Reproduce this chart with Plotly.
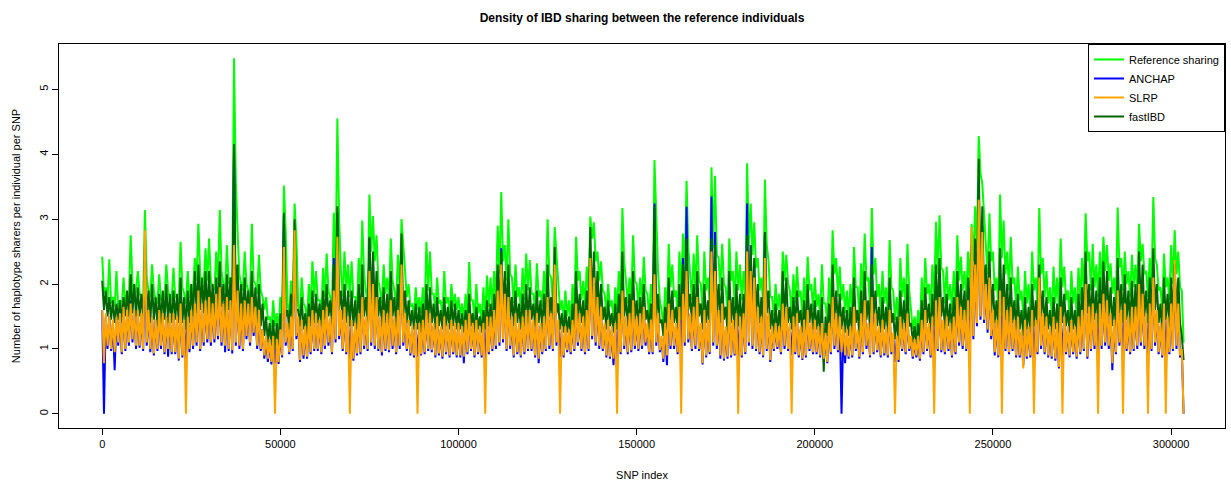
import plotly.graph_objects as go

STEP = 1000  # SNPs between successive readings

# Upper (hi) and lower (lo) readings of each curve, one pair per 1000 SNPs (0 .. 303000)
ref_hi = [
 2.42,1.95,2.38,1.8,2.2,1.75,2.1,1.85,2.75,1.8,
 2.2,1.8,3.14,1.9,2.3,1.75,2.15,1.8,2.3,1.75,
 2.25,1.8,2.65,1.85,2.2,1.8,2.4,2.93,1.9,2.55,
 2.7,1.95,2.5,3.14,2.0,2.6,2.1,5.48,2.79,2.0,
 2.5,1.9,2.93,2.0,2.45,1.8,1.8,1.5,1.75,1.55,
 1.8,3.52,1.7,2.05,3.24,1.7,2.1,1.65,2.0,2.35,
 2.2,1.75,2.25,2.47,1.8,3.1,4.55,2.2,2.5,2.3,
 2.35,1.8,2.4,2.98,1.9,3.38,3.05,2.75,1.9,2.3,
 2.1,2.7,1.9,2.45,3.0,2.2,2.0,1.7,1.95,1.8,
 1.95,2.65,2.5,1.85,2.1,1.75,2.2,1.8,2.0,1.85,
 1.8,1.7,1.85,2.34,1.75,2.0,1.7,1.95,2.13,2.1,
 2.2,2.9,3.42,2.6,3.0,2.1,2.3,1.95,2.25,2.47,
 2.37,1.85,2.32,1.9,2.2,3.0,2.1,2.88,1.95,1.75,
 1.9,1.75,2.0,2.73,2.2,2.05,2.27,3.04,2.95,2.5,
 2.35,1.85,2.0,1.75,1.95,2.2,3.17,2.05,2.1,2.75,
 2.0,2.1,2.42,1.85,2.0,3.91,2.2,1.6,1.95,2.62,
 2.3,1.9,2.5,2.78,3.59,2.2,2.47,2.75,2.0,2.5,
 2.1,3.8,3.67,2.4,2.62,1.95,2.7,2.2,2.5,2.3,
 2.2,3.86,3.24,2.95,2.4,2.1,3.61,2.37,1.8,2.0,
 1.85,2.5,2.45,1.9,2.15,2.27,1.9,2.1,2.42,2.0,
 2.1,1.85,2.3,1.7,2.1,2.83,2.4,2.27,2.0,1.9,
 2.0,2.57,1.95,2.32,2.78,2.1,3.17,2.4,2.0,2.2,
 1.95,2.68,1.9,1.8,2.4,2.1,2.62,1.6,1.5,1.6,
 2.1,2.4,2.0,2.3,2.96,3.06,2.2,2.27,2.0,2.2,
 2.75,2.42,2.2,2.5,2.93,3.2,4.28,3.55,2.6,3.09,
 2.5,2.1,3.38,2.98,2.5,2.73,2.1,2.27,1.9,2.2,
 2.0,2.5,2.1,3.17,2.4,2.2,1.95,2.27,2.1,2.7,
 2.27,1.9,2.2,1.95,2.25,2.4,3.09,2.5,2.62,2.3,
 2.5,2.73,2.6,2.32,2.1,3.18,2.4,2.5,2.2,2.45,
 2.3,2.93,2.62,2.2,2.4,3.34,2.3,1.95,2.47,2.1,
 2.6,2.83,2.5,1.9]
ref_lo = [
 1.85,1.75,1.7,1.65,1.6,1.65,1.7,1.8,2.0,1.9,
 1.85,1.75,2.1,1.8,1.9,1.7,1.75,1.8,1.9,1.75,
 1.8,1.75,1.95,1.7,1.8,1.9,2.05,2.15,2.0,2.05,
 2.05,1.9,2.0,2.2,1.9,2.0,2.0,3.6,2.15,1.9,
 2.0,1.8,2.05,1.85,1.9,1.6,1.45,1.3,1.35,1.3,
 1.45,2.8,1.5,1.75,2.7,1.5,1.7,1.45,1.6,1.8,
 1.75,1.6,1.8,1.9,1.65,2.15,3.0,1.8,1.9,1.8,
 1.8,1.65,1.9,2.15,1.7,2.5,2.35,2.05,1.7,1.85,
 1.75,2.05,1.7,1.9,2.6,1.8,1.65,1.5,1.6,1.55,
 1.6,1.9,1.85,1.6,1.7,1.5,1.7,1.55,1.65,1.6,
 1.5,1.45,1.5,1.75,1.45,1.55,1.4,1.5,1.65,1.6,
 1.75,2.15,2.35,2.05,2.15,1.7,1.8,1.6,1.75,1.9,
 1.85,1.6,1.8,1.65,1.75,2.15,1.7,2.4,1.6,1.45,
 1.5,1.4,1.6,2.05,1.75,1.65,1.8,2.7,2.35,2.05,
 1.9,1.55,1.65,1.45,1.6,1.75,2.35,1.7,1.75,2.05,
 1.65,1.7,1.9,1.5,1.6,3.0,1.75,1.35,1.55,1.95,
 1.8,1.55,1.9,2.15,2.55,1.75,1.9,2.05,1.6,1.9,
 1.65,2.55,2.45,1.9,2.0,1.55,2.05,1.7,1.9,1.75,
 1.75,2.6,2.45,2.25,1.9,1.7,2.6,1.8,1.5,1.6,
 1.5,2.05,2.0,1.55,1.7,1.8,1.5,1.65,1.9,1.6,
 1.65,1.5,1.7,1.4,1.6,2.15,1.8,1.75,1.55,1.5,
 1.55,1.95,1.5,1.8,2.05,1.65,2.15,1.8,1.55,1.7,
 1.55,1.95,1.45,1.4,1.8,1.65,1.9,1.3,1.25,1.3,
 1.65,1.85,1.6,1.75,2.15,2.25,1.7,1.75,1.6,1.7,
 2.05,1.9,1.8,2.0,2.35,2.55,3.7,3.0,2.15,2.35,
 1.9,1.65,2.4,2.15,1.9,2.0,1.65,1.75,1.5,1.7,
 1.55,1.9,1.65,2.15,1.8,1.7,1.5,1.7,1.6,1.95,
 1.75,1.5,1.7,1.5,1.75,1.85,2.35,1.9,1.95,1.8,
 1.95,2.2,2.05,1.85,1.7,2.25,1.9,2.0,1.8,1.95,
 1.9,2.35,2.15,1.8,1.95,2.4,1.9,1.6,1.95,1.75,
 2.0,2.15,1.95,1.1]

anchap_hi = [
 1.6,1.5,1.5,1.4,1.5,1.5,1.6,1.55,1.75,1.6,
 1.55,1.5,2.6,1.55,1.5,1.45,1.55,1.5,1.5,1.5,
 1.5,1.45,1.65,1.4,1.5,1.55,1.65,1.85,1.65,1.7,
 1.75,1.65,1.8,1.9,1.7,1.75,1.8,4.15,1.9,1.65,
 1.7,1.65,1.8,1.6,1.55,1.3,1.15,1.1,1.15,1.1,
 1.25,3.07,1.35,1.45,2.7,1.45,1.4,1.3,1.45,1.55,
 1.5,1.4,1.55,1.6,1.45,2.4,3.1,1.55,1.6,1.45,
 1.4,1.35,1.5,1.9,1.45,2.7,2.4,1.9,1.45,1.55,
 1.5,1.7,1.45,1.55,2.4,1.5,1.4,1.3,1.35,1.35,
 1.4,1.55,1.5,1.35,1.45,1.3,1.45,1.35,1.4,1.35,
 1.35,1.3,1.4,1.5,1.35,1.4,1.3,1.35,1.45,1.45,
 1.55,2.2,2.55,2.0,1.9,1.45,1.5,1.35,1.45,1.55,
 1.55,1.4,1.5,1.35,1.45,1.85,1.5,2.25,1.4,1.3,
 1.3,1.25,1.4,1.75,1.5,1.45,1.55,2.45,2.05,1.75,
 1.6,1.35,1.4,1.3,1.35,1.5,2.0,1.45,1.5,1.7,
 1.45,1.5,1.6,1.35,1.4,3.24,1.5,1.15,1.35,1.65,
 1.55,1.35,1.7,2.4,3.19,1.5,1.6,1.85,1.35,1.55,
 1.4,3.35,2.8,1.55,1.65,1.3,1.7,1.4,1.5,1.45,
 1.5,3.24,2.6,2.3,1.6,1.45,2.78,1.5,1.3,1.35,
 1.3,1.65,1.6,1.35,1.45,1.5,1.3,1.4,1.55,1.35,
 1.4,1.3,1.35,1.2,1.35,1.85,1.5,1.45,1.3,1.25,
 1.3,1.6,1.25,1.5,1.8,1.35,2.57,1.5,1.3,1.4,
 1.3,1.55,1.2,1.15,1.45,1.35,1.5,1.15,1.1,1.15,
 1.4,1.55,1.35,1.45,1.7,1.9,1.4,1.45,1.35,1.45,
 1.75,1.6,1.55,1.7,2.6,2.3,3.6,2.9,1.95,2.05,
 1.55,1.4,2.1,1.75,1.55,1.6,1.4,1.45,1.25,1.4,
 1.3,1.55,1.4,2.0,1.5,1.45,1.3,1.45,1.35,1.6,
 1.45,1.3,1.4,1.3,1.45,1.55,2.1,1.6,1.65,1.5,
 1.65,1.8,1.7,1.5,1.4,1.95,1.55,1.65,1.45,1.6,
 1.6,2.0,1.8,1.5,1.65,2.15,1.55,1.35,1.65,1.45,
 1.65,2.3,1.9,1.0]
anchap_lo = [
 0.0,1.0,0.97,0.67,1.05,0.92,0.97,1.05,1.1,1.0,
 1.02,0.97,1.05,0.95,0.9,0.97,1.0,0.92,0.88,0.92,
 0.92,0.82,0.87,0.85,0.95,1.0,1.05,0.97,1.05,1.1,
 1.05,1.1,1.15,1.05,0.95,0.97,0.93,1.05,1.0,0.97,
 1.15,1.05,1.2,1.0,0.97,0.85,0.8,0.76,0.78,0.77,
 0.87,1.05,0.92,0.97,1.15,0.8,0.85,0.85,0.92,0.97,
 0.97,0.92,1.0,1.05,0.92,1.1,1.15,0.97,0.92,0.85,
 0.82,0.9,0.92,1.0,0.97,1.05,1.0,0.97,0.9,0.97,
 0.95,1.0,0.92,1.0,1.05,0.97,0.9,0.87,0.88,0.9,
 0.92,0.97,0.95,0.87,0.9,0.85,0.92,0.87,0.92,0.87,
 0.87,0.78,0.92,0.97,0.87,0.92,0.87,0.85,0.92,0.97,
 1.0,1.05,1.1,0.97,1.0,0.87,0.92,0.87,0.92,0.97,
 0.97,0.87,0.78,0.92,0.97,1.0,0.97,1.05,0.88,0.87,
 0.95,0.92,0.97,1.05,0.97,0.92,0.97,1.15,1.05,1.0,
 0.97,0.87,0.85,0.75,0.8,0.92,1.0,0.92,0.95,1.0,
 0.97,1.0,1.05,0.92,0.92,1.05,0.95,0.8,0.75,1.0,
 1.0,0.92,0.9,1.05,1.1,0.97,1.0,0.97,0.76,0.87,
 0.92,1.05,1.0,0.85,0.82,0.85,0.87,0.9,0.88,0.87,
 0.92,1.05,1.0,0.97,0.92,0.87,0.97,0.8,0.97,1.0,
 0.92,1.0,0.97,0.9,0.92,0.87,0.83,0.87,0.97,0.92,
 0.92,0.87,0.82,0.78,0.92,1.0,0.95,0.0,0.78,0.85,
 0.87,0.97,0.85,0.92,1.0,0.87,0.92,0.95,0.87,0.9,
 0.87,0.92,0.8,0.8,0.97,0.92,0.97,0.85,0.87,0.82,
 0.92,0.97,0.87,0.88,0.97,0.95,0.92,0.97,0.87,0.92,
 1.05,1.0,0.97,0.95,1.15,1.35,1.45,1.4,1.25,1.15,
 0.9,0.87,0.9,0.97,0.92,0.97,0.87,0.87,0.75,0.85,
 0.87,0.85,0.92,1.0,0.92,0.87,0.85,0.82,0.7,0.82,
 0.92,0.87,0.92,0.85,0.92,0.97,0.85,0.97,1.0,0.9,
 1.0,1.05,1.0,0.67,0.92,1.05,0.9,0.97,0.92,0.97,
 1.0,1.05,1.0,0.9,0.97,1.05,0.92,0.87,0.88,0.92,
 0.97,1.0,0.87,0.0]

slrp_hi = [
 1.6,1.55,1.5,1.45,1.5,1.55,1.65,1.6,1.7,1.6,
 1.6,1.55,2.83,1.6,1.5,1.45,1.6,1.55,1.5,1.55,
 1.55,1.5,1.7,1.45,1.5,1.6,1.7,1.9,1.7,1.75,
 1.8,1.7,1.85,1.95,1.7,1.8,1.75,2.6,1.9,1.7,
 1.75,1.7,1.8,1.65,1.6,1.3,1.2,1.15,1.2,1.15,
 1.3,2.57,1.4,1.5,2.83,1.5,1.45,1.35,1.5,1.6,
 1.55,1.45,1.6,1.65,1.5,1.9,2.73,1.6,1.65,1.5,
 1.45,1.4,1.55,1.8,1.5,2.2,2.0,1.8,1.5,1.6,
 1.55,1.75,1.5,1.6,2.3,1.55,1.45,1.35,1.4,1.4,
 1.45,1.6,1.55,1.4,1.5,1.35,1.5,1.4,1.45,1.4,
 1.4,1.35,1.45,1.55,1.4,1.45,1.35,1.4,1.5,1.5,
 1.6,1.9,2.3,1.85,1.8,1.5,1.55,1.4,1.5,1.6,
 1.6,1.45,1.55,1.4,1.5,1.8,1.55,2.3,1.45,1.35,
 1.35,1.3,1.45,1.7,1.55,1.5,1.6,2.4,2.1,1.8,
 1.65,1.4,1.45,1.35,1.4,1.55,1.9,1.5,1.55,1.75,
 1.5,1.55,1.65,1.4,1.45,2.15,1.55,1.2,1.4,1.7,
 1.6,1.4,1.65,1.85,2.2,1.55,1.65,1.8,1.4,1.6,
 1.45,2.5,2.2,1.6,1.7,1.35,1.75,1.45,1.55,1.5,
 1.55,2.5,2.2,2.1,1.65,1.5,2.4,1.55,1.35,1.4,
 1.35,1.7,1.65,1.4,1.5,1.55,1.35,1.45,1.6,1.4,
 1.45,1.35,1.4,1.25,1.4,1.8,1.55,1.5,1.35,1.3,
 1.35,1.65,1.3,1.55,1.75,1.4,1.8,1.55,1.35,1.45,
 1.35,1.6,1.25,1.2,1.5,1.4,1.55,1.2,1.15,1.2,
 1.45,1.6,1.4,1.5,1.75,1.8,1.45,1.5,1.4,1.5,
 1.8,1.65,1.6,1.75,2.88,2.3,3.3,2.8,2.0,2.1,
 1.6,1.45,1.9,1.8,1.6,1.65,1.45,1.5,1.3,1.45,
 1.35,1.6,1.45,2.1,1.55,1.5,1.35,1.5,1.4,1.65,
 1.5,1.35,1.45,1.35,1.5,1.6,2.0,1.65,1.7,1.55,
 1.7,1.85,1.75,1.55,1.45,1.9,1.6,1.7,1.5,1.65,
 1.65,2.0,1.85,1.55,1.7,2.1,1.6,1.4,1.7,1.5,
 1.7,2.37,1.7,1.0]
slrp_lo = [
 0.78,1.05,1.0,0.95,1.1,0.95,1.0,1.1,1.15,1.05,
 1.05,1.0,1.1,1.0,0.93,1.0,1.05,0.95,1.0,0.95,
 0.95,0.85,0.9,0.0,1.0,1.05,1.1,1.0,1.1,1.15,
 1.1,1.15,1.2,1.1,1.05,1.0,0.98,1.1,1.05,1.0,
 1.2,1.1,1.25,1.05,1.0,0.9,0.85,0.8,0.0,0.8,
 0.9,1.1,0.95,1.0,1.2,0.83,0.9,0.88,0.95,1.0,
 1.0,0.95,1.05,1.1,0.95,1.15,1.2,1.0,0.95,0.0,
 0.85,0.93,0.95,1.05,1.0,1.1,1.05,1.0,0.95,1.0,
 0.98,1.05,0.95,1.05,1.1,1.0,0.93,0.9,0.0,0.92,
 0.95,1.0,0.98,0.9,0.93,0.88,0.95,0.9,0.95,0.9,
 0.9,0.88,0.95,1.0,0.9,0.95,0.9,0.0,0.95,1.0,
 1.05,1.1,1.15,1.0,1.05,0.9,0.95,0.9,0.95,1.0,
 1.0,0.9,0.85,0.95,1.0,1.05,1.0,1.1,0.0,0.9,
 0.98,0.95,1.0,1.1,1.0,0.95,1.0,1.2,1.1,1.05,
 1.0,0.9,0.88,0.85,0.0,0.95,1.05,0.95,0.98,1.05,
 1.0,1.05,1.1,0.95,0.95,1.1,0.98,0.85,0.9,1.05,
 1.05,0.95,0.0,1.1,1.15,1.0,1.05,1.0,0.78,0.9,
 0.95,1.1,1.05,0.9,0.85,0.88,0.9,0.92,0.0,0.9,
 0.95,1.1,1.05,1.0,0.95,0.9,1.0,0.83,1.0,1.03,
 0.95,1.05,1.0,0.0,0.95,0.9,0.85,0.9,1.0,0.95,
 0.95,0.9,0.85,0.8,0.95,1.05,0.98,0.95,0.9,0.88,
 0.9,1.0,0.88,0.95,1.05,0.9,0.95,0.98,0.9,0.93,
 0.9,0.95,0.0,0.83,1.0,0.95,1.0,0.88,0.9,0.85,
 0.95,1.0,0.9,0.0,1.0,0.98,0.95,1.0,0.9,0.95,
 1.1,1.05,1.0,0.0,1.2,1.4,1.5,1.45,1.3,1.2,
 0.95,0.9,0.0,1.0,0.95,1.0,0.9,0.9,0.7,0.88,
 0.9,0.0,0.95,1.05,0.95,0.9,0.88,0.85,0.72,0.0,
 0.95,0.9,0.95,0.88,0.95,1.0,0.88,1.0,1.05,0.0,
 1.05,1.1,1.05,0.78,0.95,1.1,0.0,1.0,0.95,1.0,
 1.05,1.1,1.05,0.0,1.0,1.1,0.95,0.9,0.0,0.95,
 1.0,1.05,0.9,0.0]

fastibd_hi = [
 2.05,1.9,1.8,1.75,1.7,1.75,1.8,1.9,2.15,2.0,
 1.95,1.85,2.3,1.9,2.0,1.8,1.85,1.9,2.0,1.85,
 1.9,1.85,2.1,1.8,1.9,2.0,2.2,2.3,2.1,2.2,
 2.2,2.0,2.1,2.35,2.0,2.15,2.1,4.15,2.3,2.0,
 2.1,1.9,2.2,1.95,2.0,1.7,1.5,1.4,1.45,1.4,
 1.55,3.1,1.6,1.85,3.0,1.6,1.8,1.55,1.7,1.9,
 1.85,1.7,1.9,2.0,1.75,2.3,3.2,1.9,2.0,1.9,
 1.9,1.75,2.0,2.3,1.8,2.73,2.5,2.2,1.8,1.95,
 1.85,2.2,1.8,2.0,2.78,1.9,1.75,1.6,1.7,1.65,
 1.7,2.0,1.95,1.7,1.8,1.6,1.8,1.65,1.75,1.7,
 1.6,1.55,1.6,1.85,1.55,1.65,1.5,1.6,1.75,1.7,
 1.85,2.3,2.5,2.2,2.3,1.8,1.9,1.7,1.85,2.0,
 1.95,1.7,1.9,1.75,1.85,2.3,1.8,2.57,1.7,1.55,
 1.6,1.5,1.7,2.2,1.85,1.75,1.9,2.88,2.5,2.2,
 2.0,1.65,1.75,1.55,1.7,1.85,2.5,1.8,1.85,2.2,
 1.75,1.8,2.0,1.6,1.7,3.2,1.85,1.45,1.65,2.1,
 1.9,1.65,2.0,2.3,2.7,1.85,2.0,2.2,1.7,2.0,
 1.75,2.7,2.6,2.0,2.1,1.65,2.2,1.8,2.0,1.85,
 1.85,2.75,2.6,2.4,2.0,1.8,2.8,1.9,1.6,1.7,
 1.6,2.2,2.1,1.65,1.8,1.9,1.6,1.75,2.0,1.7,
 1.75,1.6,1.8,1.5,1.7,2.3,1.9,1.85,1.65,1.6,
 1.65,2.1,1.6,1.9,2.2,1.75,2.3,1.9,1.65,1.8,
 1.65,2.1,1.55,1.5,1.9,1.75,2.0,1.4,1.35,1.4,
 1.75,1.95,1.7,1.85,2.3,2.4,1.8,1.85,1.7,1.8,
 2.2,2.0,1.9,2.1,2.5,2.7,3.93,3.2,2.3,2.5,
 2.0,1.75,2.55,2.3,2.0,2.1,1.75,1.85,1.6,1.8,
 1.65,2.0,1.75,2.3,1.9,1.8,1.6,1.8,1.7,2.1,
 1.85,1.6,1.8,1.6,1.85,1.95,2.5,2.0,2.1,1.9,
 2.1,2.35,2.2,1.95,1.8,2.4,2.0,2.15,1.9,2.05,
 2.0,2.5,2.3,1.9,2.1,2.55,2.0,1.7,2.1,1.85,
 2.1,2.3,2.1,1.2]
fastibd_lo = [
 1.6,1.5,1.45,1.4,1.45,1.4,1.5,1.5,1.55,1.5,
 1.5,1.45,1.5,1.4,1.45,1.35,1.4,1.45,1.4,1.4,
 1.45,1.4,1.4,1.3,1.4,1.5,1.55,1.6,1.55,1.5,
 1.55,1.5,1.6,1.65,1.5,1.6,1.55,1.6,1.5,1.45,
 1.5,1.45,1.5,1.4,1.35,1.2,1.1,1.05,1.0,1.05,
 1.2,1.5,1.3,1.35,1.6,1.35,1.3,1.25,1.35,1.4,
 1.4,1.35,1.45,1.5,1.35,1.5,1.6,1.45,1.4,1.35,
 1.35,1.3,1.4,1.5,1.4,1.6,1.55,1.5,1.35,1.4,
 1.4,1.5,1.35,1.45,1.5,1.4,1.35,1.3,1.3,1.25,
 1.3,1.4,1.4,1.3,1.35,1.3,1.35,1.3,1.35,1.3,
 1.3,1.25,1.3,1.35,1.25,1.3,1.25,1.3,1.35,1.3,
 1.4,1.5,1.6,1.5,1.45,1.35,1.4,1.3,1.35,1.4,
 1.45,1.35,1.4,1.3,1.35,1.5,1.4,1.55,1.3,1.25,
 1.25,1.2,1.3,1.45,1.4,1.35,1.4,1.6,1.55,1.5,
 1.45,1.3,1.35,1.25,1.3,1.4,1.5,1.35,1.4,1.45,
 1.35,1.4,1.45,1.3,1.35,1.5,1.4,1.2,1.3,1.45,
 1.4,1.3,1.45,1.5,1.6,1.4,1.45,1.5,1.3,1.4,
 1.3,1.55,1.5,1.4,1.45,1.25,1.4,1.3,1.35,1.3,
 1.35,1.6,1.55,1.5,1.4,1.3,1.55,1.3,1.2,1.25,
 1.25,1.45,1.4,1.3,1.35,1.4,1.25,1.3,1.4,1.3,
 1.3,1.2,0.65,1.2,1.3,1.45,1.35,1.3,1.25,1.2,
 1.25,1.4,1.2,1.35,1.45,1.3,1.5,1.35,1.25,1.3,
 1.25,1.4,1.15,1.1,1.3,1.25,1.35,1.1,1.05,1.1,
 1.3,1.4,1.25,1.35,1.45,1.5,1.3,1.35,1.25,1.3,
 1.5,1.45,1.4,1.5,1.6,1.7,1.9,1.8,1.6,1.55,
 1.4,1.3,1.5,1.45,1.4,1.4,1.3,1.3,1.2,1.3,
 1.25,1.35,1.3,1.5,1.35,1.3,1.2,1.3,1.25,1.4,
 1.35,1.25,1.3,1.2,1.35,1.4,1.55,1.4,1.45,1.35,
 1.45,1.55,1.5,1.35,1.3,1.55,1.4,1.45,1.35,1.4,
 1.45,1.6,1.5,1.4,1.45,1.6,1.4,1.25,1.45,1.35,
 1.45,1.5,1.4,0.83]

x_ticks = [0, 50000, 100000, 150000, 200000, 250000, 300000]
y_ticks = [0, 1, 2, 3, 4, 5]

series = [
    # name, hi, lo, colour, legend position
    ("Reference sharing", ref_hi, ref_lo, "#00FF00", 1),
    ("ANCHAP", anchap_hi, anchap_lo, "#0000FF", 2),
    ("fastIBD", fastibd_hi, fastibd_lo, "#006400", 4),
    ("SLRP", slrp_hi, slrp_lo, "#FFA500", 3),
]


def interleave(hi, lo):
    xs, ys = [], []
    for i, (h, l) in enumerate(zip(hi, lo)):
        xs += [i * STEP, i * STEP + STEP / 2]
        ys += [h, l]
    return xs, ys


fig = go.Figure()
for name, hi, lo, col, rank in series:
    xs, ys = interleave(hi, lo)
    fig.add_trace(go.Scatter(x=xs, y=ys, mode="lines", name=name,
                             line=dict(color=col, width=2),
                             legendrank=rank, hoverinfo="skip"))

FONT = "Liberation Sans, Arial, Helvetica, sans-serif"
fig.update_layout(
    width=1231, height=481,
    margin=dict(l=59, r=6, t=44, b=53),
    paper_bgcolor="white", plot_bgcolor="white",
    font=dict(family=FONT, size=11, color="black"),
    title=dict(text="<b>Density of IBD sharing between the reference individuals</b>",
               x=0.5, xref="paper", xanchor="center",
               y=1 - 18 / 481, yref="container", yanchor="middle",
               font=dict(size=12, family=FONT, color="black")),
    showlegend=True,
    legend=dict(x=1, y=1, xanchor="right", yanchor="top",
                bgcolor="white", bordercolor="black", borderwidth=1,
                font=dict(size=11, family=FONT), tracegroupgap=0,
                itemwidth=30),
)
fig.update_xaxes(range=[-12120, 315120], tickvals=x_ticks,
                 ticktext=[str(v) for v in x_ticks],
                 showgrid=False, zeroline=False, showline=True, mirror=True,
                 linecolor="black", linewidth=1, ticks="outside", ticklen=6,
                 tickcolor="black", automargin=False,
                 title=dict(text="SNP index", standoff=22, font=dict(size=11)))
fig.update_yaxes(range=[-0.219, 5.70], tickvals=y_ticks,
                 showgrid=False, zeroline=False, showline=True, mirror=True,
                 linecolor="black", linewidth=1, ticks="outside", ticklen=6,
                 tickcolor="black", tickangle=-90, automargin=False,
                 title=dict(text="Number of haplotype sharers per individual per SNP",
                            standoff=14, font=dict(size=11)))

fig.write_html("out.html")
